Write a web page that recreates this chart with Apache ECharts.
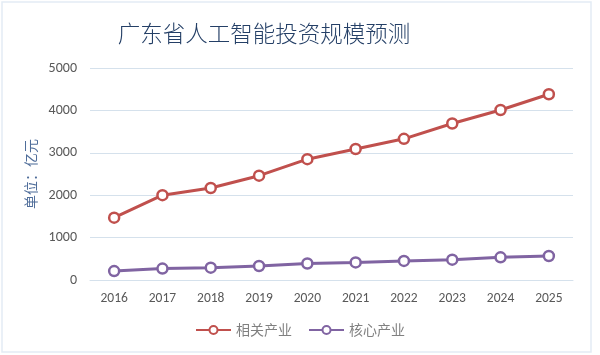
<!DOCTYPE html>
<html>
<head>
<meta charset="utf-8">
<script src="https://cdn.jsdelivr.net/npm/echarts@6/dist/echarts.min.js"></script>
<style>
html,body{margin:0;padding:0;background:#ffffff;}
#c{width:600px;height:355px;}
</style>
</head>
<body>
<div id="c"></div>
<script>
const years = ['2016','2017','2018','2019','2020','2021','2022','2023','2024','2025'];
const relatedIndustry = [1470, 2000, 2170, 2460, 2850, 3090, 3330, 3690, 4010, 4380];
const coreIndustry = [210, 270, 290, 330, 390, 415, 450, 480, 535, 565];
const seriesNames = ['相关产业', '核心产业'];
const yTicks = { min: 0, max: 5000, interval: 1000 };

const chart = echarts.init(document.getElementById('c'), null, {renderer: 'canvas'});
const cjk = '"Noto Sans CJK SC", "Noto Sans", sans-serif';
const latin = 'Calibri, "Liberation Sans", "Open Sans", sans-serif';

function lineSeries(name, data, color) {
  return {
    name: name,
    type: 'line',
    data: data,
    symbol: 'circle',
    symbolSize: 10,
    showSymbol: true,
    lineStyle: { color: color, width: 3 },
    itemStyle: { color: '#ffffff', borderColor: color, borderWidth: 2.5 },
    emphasis: { disabled: true },
    animation: false
  };
}

chart.setOption({
  backgroundColor: '#ffffff',
  animation: false,
  graphic: [{
    type: 'rect',
    shape: { x: 2, y: 2, width: 589, height: 350 },
    style: { fill: '#ffffff', stroke: '#e3ecf5', lineWidth: 1.5 },
    silent: true,
    z: -10
  }],
  title: {
    text: '广东省人工智能投资规模预测',
    left: 259,
    textAlign: 'center',
    top: 17,
    textStyle: { fontFamily: cjk, fontSize: 22.5, fontWeight: 300, color: '#243f66' }
  },
  grid: { left: 90, right: 27, top: 68, bottom: 75 },
  legend: {
    data: seriesNames,
    bottom: 13,
    left: 'center',
    itemWidth: 35,
    itemHeight: 10,
    itemGap: 16,
    textStyle: { fontFamily: cjk, fontSize: 14, color: '#808080' }
  },
  xAxis: {
    type: 'category',
    data: years,
    boundaryGap: true,
    axisLine: { show: true, lineStyle: { color: '#d5e1ec', width: 1 } },
    axisTick: { show: false },
    axisLabel: { margin: 12, fontFamily: latin, fontSize: 13.5, color: '#595959' }
  },
  yAxis: {
    type: 'value',
    min: yTicks.min,
    max: yTicks.max,
    interval: yTicks.interval,
    name: '单位：亿元',
    nameLocation: 'middle',
    nameGap: 52,
    nameRotate: 90,
    nameTextStyle: { fontFamily: cjk, fontSize: 14, color: '#4f6d9a' },
    axisLine: { show: false },
    axisTick: { show: false },
    splitLine: { lineStyle: { color: '#d5e1ec', width: 1 } },
    axisLabel: { margin: 13, fontFamily: latin, fontSize: 14, color: '#595959', formatter: function (v) { return String(v); } }
  },
  series: [
    lineSeries(seriesNames[0], relatedIndustry, '#c0504d'),
    lineSeries(seriesNames[1], coreIndustry, '#8064a2')
  ]
});
</script>
</body>
</html>
